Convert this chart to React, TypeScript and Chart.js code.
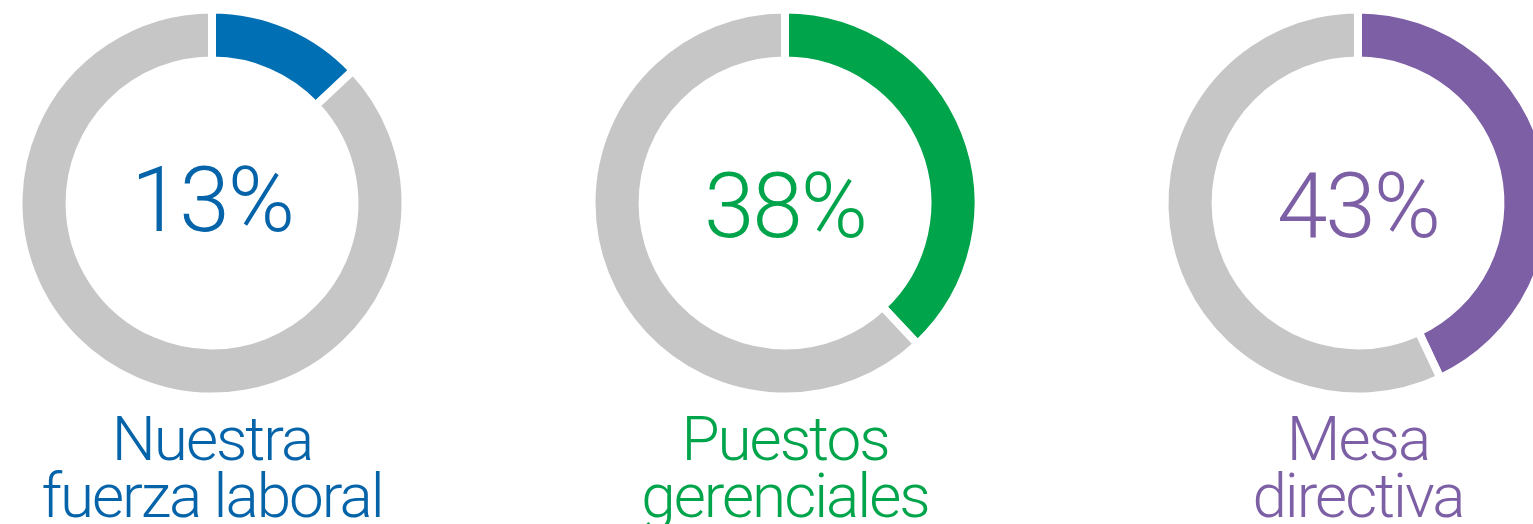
import React, { useEffect, useRef } from "react";
import { Chart, registerables } from "chart.js";

Chart.register(...registerables);

const percentages = [13, 38, 43];
const percentLabels = ["13%", "38%", "43%"];
const categoryLines = [
  ["Nuestra", "fuerza laboral"],
  ["Puestos", "gerenciales"],
  ["Mesa", "directiva"],
];
const segmentColors = ["#006FB3", "#00A44B", "#7D5FA5"];
const textColors = ["#0564A9", "#00A44B", "#7D5FA5"];
const restColor = "#C6C6C6";

const CENTERS_X = [212, 785, 1358];
const CENTER_Y = 203;
const CANVAS_W = 420;
const CANVAS_H = 524;
const PCT_BASELINES = [231, 237, 237];
const FONT = "Roboto, 'Noto Sans', 'Liberation Sans', sans-serif";

function Donut({ index }: { index: number }) {
  const ref = useRef<HTMLCanvasElement | null>(null);
  useEffect(() => {
    if (!ref.current) return;
    const value = percentages[index];
    const textPlugin = {
      id: "donutText",
      afterDraw(chart: any) {
        const ctx = chart.ctx as CanvasRenderingContext2D;
        const meta = chart.getDatasetMeta(0);
        const arc = meta.data[0] as any;
        const cx = arc.x;
        ctx.save();
        ctx.fillStyle = textColors[index];
        ctx.textAlign = "center";
        ctx.textBaseline = "alphabetic";
        ctx.font = `300 91px ${FONT}`;
        (ctx as any).letterSpacing = "-2px";
        ctx.fillText(percentLabels[index], cx, PCT_BASELINES[index]);
        ctx.font = `300 62px ${FONT}`;
        (ctx as any).letterSpacing = "-2px";
        const lines = categoryLines[index];
        lines.forEach((ln, i) => {
          ctx.fillText(ln, cx, 460 + i * 57);
        });
        ctx.restore();
      },
    };
    const chart = new Chart(ref.current, {
      type: "doughnut",
      data: {
        labels: ["value", "rest"],
        datasets: [
          {
            data: [value, 100 - value],
            backgroundColor: [segmentColors[index], restColor],
            borderColor: "#ffffff",
            borderWidth: 8,
            hoverOffset: 0,
          },
        ],
      },
      options: {
        animation: false,
        responsive: false,
        maintainAspectRatio: false,
        radius: 193.5,
        cutout: "73.6%",
        layout: { padding: { top: 0, bottom: CANVAS_H - 2 * CENTER_Y, left: 0, right: 0 } },
        plugins: {
          legend: { display: false },
          tooltip: { enabled: false },
        },
        events: [],
      },
      plugins: [textPlugin],
    });
    return () => chart.destroy();
  }, [index]);
  return (
    <canvas
      ref={ref}
      width={CANVAS_W}
      height={CANVAS_H}
      style={{
        position: "absolute",
        left: CENTERS_X[index] - CANVAS_W / 2,
        top: 0,
        width: CANVAS_W,
        height: CANVAS_H,
      }}
    />
  );
}

export default function App() {
  return (
    <div
      style={{
        position: "fixed",
        left: 0,
        top: 0,
        width: "100vw",
        height: "100vh",
        overflow: "hidden",
        background: "#ffffff",
      }}
    >
      {percentages.map((_, i) => (
        <Donut key={i} index={i} />
      ))}
    </div>
  );
}
